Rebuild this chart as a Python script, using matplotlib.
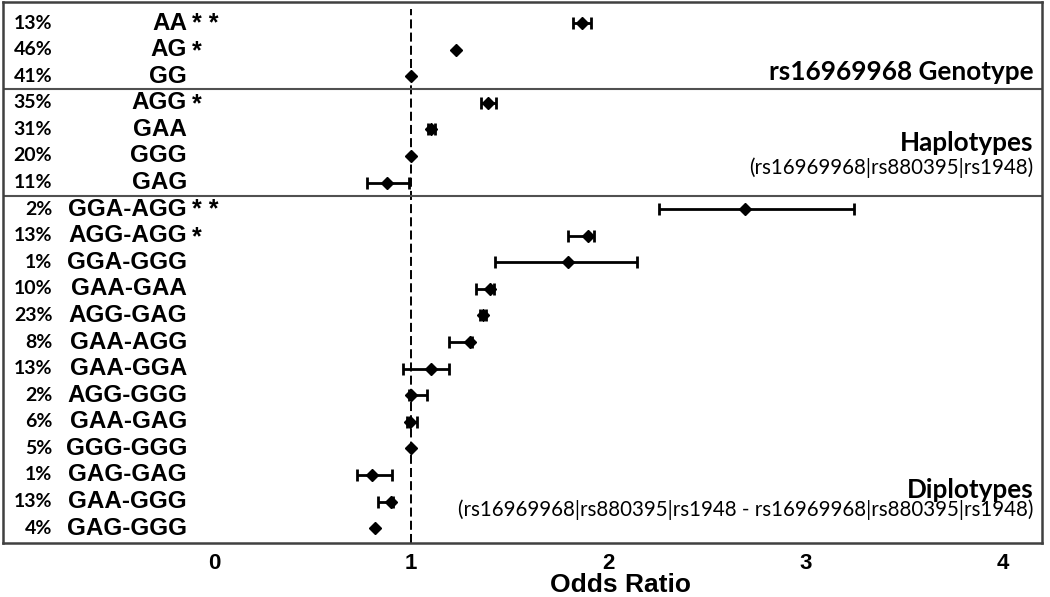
import matplotlib
matplotlib.use("Agg")
import matplotlib.pyplot as plt
import numpy as np

plt.rcParams['lines.scale_dashes'] = False

# ---------------- data ----------------
labels = ["AA", "AG", "GG",
          "AGG", "GAA", "GGG", "GAG",
          "GGA-AGG", "AGG-AGG", "GGA-GGG", "GAA-GAA", "AGG-GAG", "GAA-AGG",
          "GAA-GGA", "AGG-GGG", "GAA-GAG", "GGG-GGG", "GAG-GAG", "GAA-GGG", "GAG-GGG"]
freqs = ["13%", "46%", "41%",
         "35%", "31%", "20%", "11%",
         "2%", "13%", "1%", "10%", "23%", "8%",
         "13%", "2%", "6%", "5%", "1%", "13%", "4%"]
stars = ["**", "*", "",
         "*", "", "", "",
         "**", "*", "", "", "", "",
         "", "", "", "", "", "", ""]
odds = [1.866, 1.227, 1.0,
        1.39, 1.10, 1.0, 0.877,
        2.696, 1.899, 1.798, 1.40, 1.366, 1.30,
        1.10, 1.0, 0.995, 1.0, 0.80, 0.897, 0.816]
ci_low = [1.82, 1.227, 1.0,
          1.354, 1.085, 1.0, 0.776,
          2.258, 1.798, 1.428, 1.327, 1.35, 1.19,
          0.96, 0.99, 0.98, 1.0, 0.727, 0.83, 0.816]
ci_high = [1.91, 1.227, 1.0,
           1.43, 1.12, 1.0, 0.99,
           3.245, 1.93, 2.147, 1.42, 1.38, 1.31,
           1.19, 1.08, 1.03, 1.0, 0.904, 0.91, 0.816]
xticks = [0, 1, 2, 3, 4]
section_titles = ["rs16969968 Genotype", "Haplotypes", "Diplotypes"]
section_subtitles = ["", "(rs16969968|rs880395|rs1948)",
                     "(rs16969968|rs880395|rs1948 - rs16969968|rs880395|rs1948)"]
separators_after = [2, 6]

# ---------------- figure ----------------
W, H = 1050, 597
fig = plt.figure(figsize=(W / 100, H / 100), dpi=100)
ax = fig.add_axes([3 / W, 1 - 543 / H, (1042 - 3) / W, (543 - 2) / H])

odds = np.array(odds)
lo = np.array(ci_low)
hi = np.array(ci_high)
y = np.arange(len(labels))

ax.set_xlim(-1.07, 4.2)
ax.set_ylim(19.56, -0.79)

# reference line
ax.axvline(1.0, ymin=0, ymax=0.987, color="black", lw=1.4,
           linestyle=(0, (6.5, 3.0)), zorder=1)

# error bars
has_ci = hi > lo
ax.errorbar(odds[has_ci], y[has_ci],
            xerr=[odds[has_ci] - lo[has_ci], hi[has_ci] - odds[has_ci]],
            fmt="none", ecolor="black", elinewidth=2.0, capsize=4.0,
            capthick=2.0, zorder=2)
ax.plot(odds, y, linestyle="none", marker="D", markersize=6.5,
        color="black", zorder=3)

# separators
for s in separators_after:
    ax.axhline(s + 0.5, color="#505050", lw=1.5, zorder=1)

# row labels
lab_font = dict(family="Liberation Sans", weight="bold")
for i in range(len(labels)):
    ax.text(-0.82, y[i], freqs[i], ha="right", va="center",
            fontsize=14, family="Lato", weight="bold")
    ax.text(-0.137, y[i], labels[i], ha="right", va="center",
            fontsize=17.5, **lab_font)
    if stars[i]:
        ax.text(-0.112, y[i] + 0.05, " ".join(stars[i]), ha="left",
                va="center", fontsize=18, **lab_font)

# section titles
title_y = [1.84, 4.51, 17.57]
sub_y = [None, 5.46, 18.32]
for t, ty, st, sy in zip(section_titles, title_y, section_subtitles, sub_y):
    ax.text(4.158, ty, t, ha="right", va="center", fontsize=18.8,
            family="Lato", weight="bold")
    if st:
        ax.text(4.158, sy, st, ha="right", va="center", fontsize=14.8,
                family="Lato")

# axes styling
for sp in ax.spines.values():
    sp.set_color("#404040")
    sp.set_linewidth(1.8)
ax.set_yticks([])
ax.set_xticks(xticks)
ax.set_xticklabels([str(v) for v in xticks], fontsize=16,
                   family="Liberation Sans", weight="bold")
ax.tick_params(axis="x", length=0, pad=7)

fig.text(621 / W, 1 - 585 / H, "Odds Ratio", ha="center", va="center",
         fontsize=19, family="Liberation Sans", weight="bold")

fig.savefig("out.png", dpi=100)
